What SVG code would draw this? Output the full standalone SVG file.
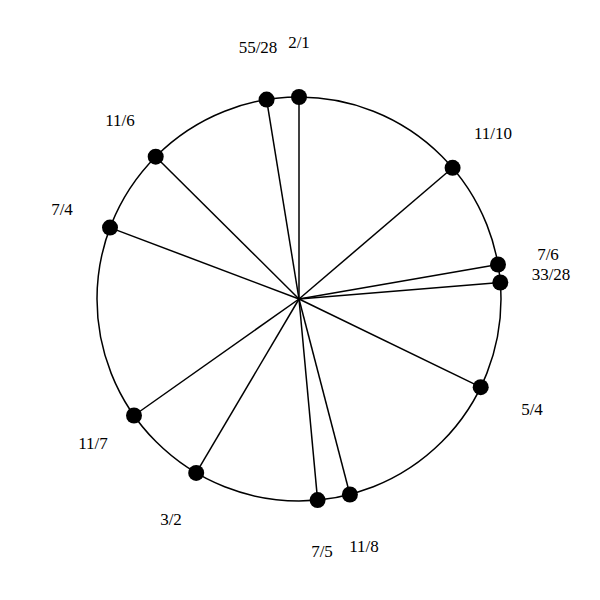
<svg xmlns="http://www.w3.org/2000/svg" width="600" height="600" viewBox="0 0 600 600">
<style>
.ln{stroke:#000;stroke-width:1.5;fill:none}
.dot{fill:#000}
text{font-family:"Liberation Serif","Times New Roman",serif;font-size:17px;fill:#000;text-anchor:middle}
</style>
<rect width="600" height="600" fill="#fff"/>
<circle cx="299" cy="299" r="202" class="ln"/>
<g id="connectors">
<line class="ln" x1="299" y1="299" x2="299" y2="97"/>
<line class="ln" x1="299" y1="299" x2="266.6" y2="99.6"/>
<line class="ln" x1="299" y1="299" x2="452.6" y2="167.8"/>
<line class="ln" x1="299" y1="299" x2="498" y2="264.5"/>
<line class="ln" x1="299" y1="299" x2="500.3" y2="282.5"/>
<line class="ln" x1="299" y1="299" x2="480.7" y2="387.2"/>
<line class="ln" x1="299" y1="299" x2="349.9" y2="494.5"/>
<line class="ln" x1="299" y1="299" x2="317.6" y2="500.1"/>
<line class="ln" x1="299" y1="299" x2="196.2" y2="472.9"/>
<line class="ln" x1="299" y1="299" x2="134" y2="415.5"/>
<line class="ln" x1="299" y1="299" x2="110" y2="227.6"/>
<line class="ln" x1="299" y1="299" x2="155.7" y2="156.7"/>
</g>
<g id="n-2-1"><circle class="dot" cx="299" cy="97" r="8"/><text x="299" y="48">2/1</text></g>
<g id="n-55-28"><circle class="dot" cx="266.6" cy="99.6" r="8"/><text x="258" y="53">55/28</text></g>
<g id="n-11-10"><circle class="dot" cx="452.6" cy="167.8" r="8"/><text x="493" y="139">11/10</text></g>
<g id="n-7-6"><circle class="dot" cx="498" cy="264.5" r="8"/><text x="548" y="260">7/6</text></g>
<g id="n-33-28"><circle class="dot" cx="500.3" cy="282.5" r="8"/><text x="551" y="280">33/28</text></g>
<g id="n-5-4"><circle class="dot" cx="480.7" cy="387.2" r="8"/><text x="532" y="415">5/4</text></g>
<g id="n-11-8"><circle class="dot" cx="349.9" cy="494.5" r="8"/><text x="364" y="552">11/8</text></g>
<g id="n-7-5"><circle class="dot" cx="317.6" cy="500.1" r="8"/><text x="322" y="557">7/5</text></g>
<g id="n-3-2"><circle class="dot" cx="196.2" cy="472.9" r="8"/><text x="171" y="525">3/2</text></g>
<g id="n-11-7"><circle class="dot" cx="134" cy="415.5" r="8"/><text x="93" y="449">11/7</text></g>
<g id="n-7-4"><circle class="dot" cx="110" cy="227.6" r="8"/><text x="62" y="215">7/4</text></g>
<g id="n-11-6"><circle class="dot" cx="155.7" cy="156.7" r="8"/><text x="120" y="126">11/6</text></g>
</svg>
